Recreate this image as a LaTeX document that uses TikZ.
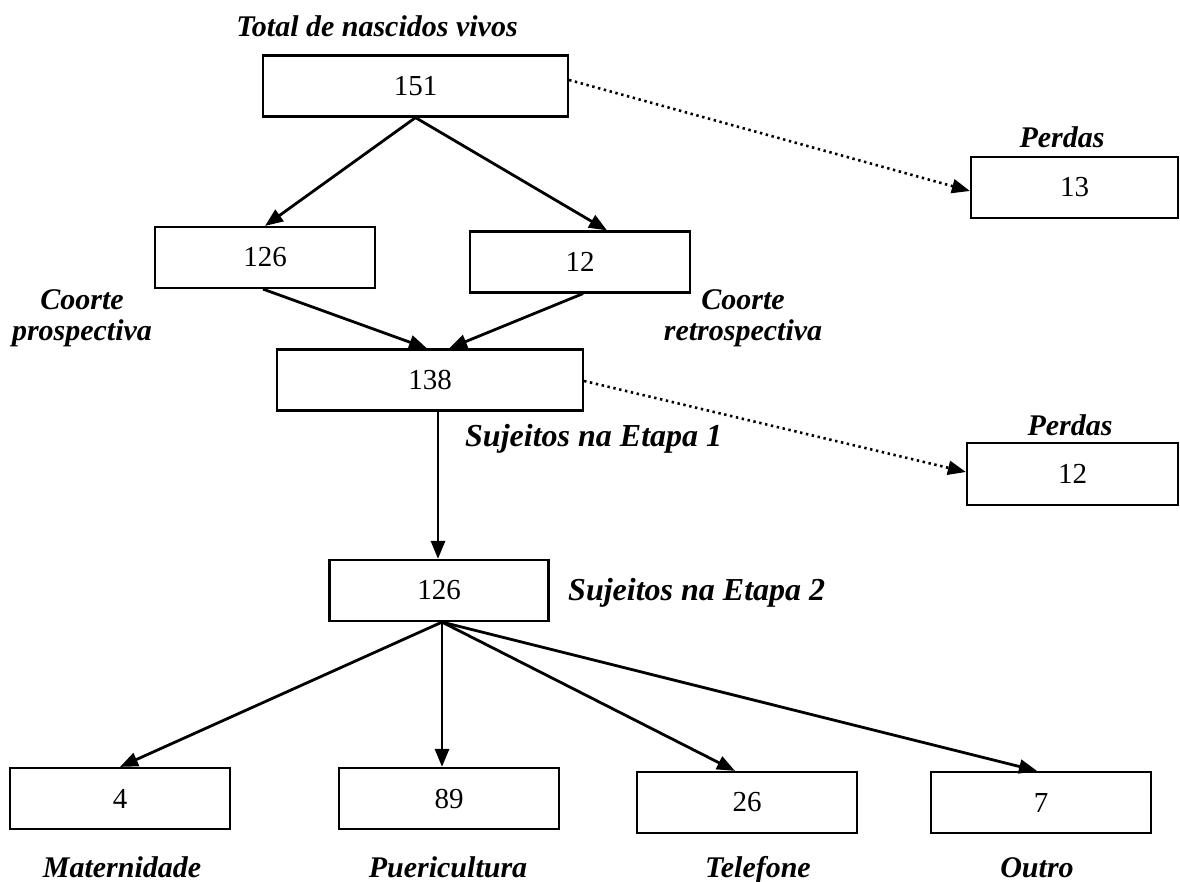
\documentclass[tikz,border=0pt]{standalone}
\usepackage{fontspec}
\setmainfont{Liberation Serif}
\usetikzlibrary{arrows.meta}
\begin{document}
\begin{tikzpicture}[x=1pt,y=-1pt,
  box/.style={draw, line width=2.2pt, minimum height=61pt, inner sep=0pt, font=\fontsize{29}{34}\selectfont},
  lbl/.style={font=\fontsize{30}{31}\selectfont\bfseries\itshape, inner sep=0pt},
  biglbl/.style={font=\fontsize{32}{34}\selectfont\bfseries\itshape, inner sep=0pt},
  arr/.style={line width=2.8pt, -{Triangle[length=18pt,width=14pt]}},
  dots/.style={line width=2.6pt, dash pattern=on 2.4pt off 3.6pt, -{Triangle[length=18pt,width=14pt,sep=0pt]}}]
\useasboundingbox (0,0) rectangle (1180,882);
\fill[white] (0,0) rectangle (1180,882);

% boxes
\node[box, minimum width=305pt] (b151) at (415.5,86) {151};
\node[box, minimum width=207pt] (p1) at (1074.5,187.5) {13};
\node[box, minimum width=220pt] (c126) at (265,257.5) {126};
\node[box, minimum width=220pt] (c12) at (580,262) {12};
\node[box, minimum width=306pt] (b138) at (430,380) {138};
\node[box, minimum width=211pt, minimum height=62pt] (p2) at (1072.5,474) {12};
\node[box, minimum width=219pt] (e126) at (439,590.5) {126};
\node[box, minimum width=220pt] (m4) at (120,798.5) {4};
\node[box, minimum width=220pt] (p89) at (449,798.5) {89};
\node[box, minimum width=220pt] (t26) at (747,802.5) {26};
\node[box, minimum width=220pt] (o7) at (1041,802.5) {7};

% labels
\node[lbl, anchor=base] (lTotal) at (377,37) {Total de nascidos vivos};
\node[lbl, anchor=base] (lPerdas1) at (1062,148) {Perdas};
\node[lbl, anchor=base] (lPerdas2) at (1070,435) {Perdas};
\node[lbl, align=center] (lPro) at (82,318) {Coorte\\prospectiva};
\node[lbl, align=center] (lRetro) at (743,318) {Coorte\\retrospectiva};
\node[biglbl, anchor=base west] (lEt1) at (465,446) {Sujeitos na Etapa 1};
\node[biglbl, anchor=base west] (lEt2) at (568,600) {Sujeitos na Etapa 2};
\node[lbl, anchor=base] (lMat) at (122,877) {Maternidade};
\node[lbl, anchor=base] (lPue) at (448,877) {Puericultura};
\node[lbl, anchor=base] (lTel) at (758,877) {Telefone};
\node[lbl, anchor=base] (lOut) at (1037,877) {Outro};

% arrows
\draw[arr] (b151.south) -- (c126.north);
\draw[arr] (b151.south) -- ([xshift=27pt]c12.north);
\draw[arr] ([xshift=-2pt]c126.south) -- ([xshift=-3pt]b138.north);
\draw[arr] ([xshift=3pt]c12.south) -- ([xshift=19pt]b138.north);
\draw[arr] ([xshift=8pt]b138.south) -- ([xshift=-1pt]e126.north);
\draw[arr] ([xshift=3pt]e126.south) -- (m4.north);
\draw[arr] ([xshift=3pt]e126.south) -- ([xshift=-7pt]p89.north);
\draw[arr] ([xshift=3pt]e126.south) -- ([xshift=-12pt]t26.north);
\draw[arr] ([xshift=3pt]e126.south) -- ([xshift=-4pt]o7.north);

% dotted losses
\draw[dots] ([yshift=6pt]b151.east) -- ([yshift=-3.5pt]p1.west);
\draw[dots] ([yshift=-1pt]b138.east) -- ([yshift=2pt]p2.west);
\end{tikzpicture}
\end{document}
